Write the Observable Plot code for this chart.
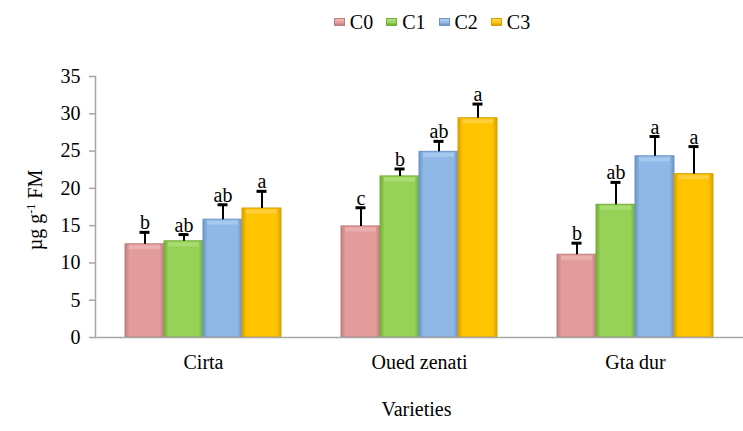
<!DOCTYPE html>
<html>
<head>
<meta charset="utf-8">
<script src="https://cdn.jsdelivr.net/npm/d3@7"></script>
<script src="https://cdn.jsdelivr.net/npm/@observablehq/plot@0.6"></script>
<style>
  body { margin: 0; background: #fff; }
  #wrap { position: relative; width: 743px; height: 431px; font-family: "Liberation Serif", "Times New Roman", serif; color: #000; overflow: hidden; }
  #legend { position: absolute; left: 0; top: 10px; width: 743px; height: 24px; display: flex; justify-content: center; align-items: center; font-size: 20px; padding-left: 120px; box-sizing: border-box; }
  #legend .item { display: flex; align-items: center; margin: 0 6px 0 7px; }
  #legend .sw { width: 11px; height: 8px; margin-right: 5px; }
  #chart { position: absolute; left: 0; top: 40px; }
  #ylabel { position: absolute; left: 35px; top: 210px; transform: translate(-50%, -50%) rotate(-90deg); white-space: nowrap; font-size: 20px; }
  #ylabel sup { font-size: 12px; vertical-align: 7px; line-height: 0; }
  #xlabel { position: absolute; left: 0; width: 743px; text-align: center; top: 398px; font-size: 20px; padding-left: 90px; box-sizing: border-box; }
</style>
</head>
<body>
<svg width="0" height="0" style="position:absolute">
  <defs id="grads"></defs>
</svg>
<div id="wrap">
  <div id="legend"></div>
  <div id="chart"></div>
  <div id="ylabel">µg g<sup>-1</sup> FM</div>
  <div id="xlabel">Varieties</div>
</div>
<script>
const varieties = ["Cirta", "Oued zenati", "Gta dur"];
const series = ["C0", "C1", "C2", "C3"];
const meanC0 = [12.5, 14.9, 11.1];
const meanC1 = [12.9, 21.6, 17.8];
const meanC2 = [15.8, 24.9, 24.3];
const meanC3 = [17.3, 29.4, 21.9];
const errC0 = [1.6, 2.5, 1.55];
const errC1 = [0.9, 1.0, 3.0];
const errC2 = [2.0, 1.4, 2.65];
const errC3 = [2.3, 1.9, 3.7];
const letC0 = ["b", "c", "b"];
const letC1 = ["ab", "b", "ab"];
const letC2 = ["ab", "ab", "a"];
const letC3 = ["a", "a", "a"];
const yTicks = [0, 5, 10, 15, 20, 25, 30, 35];

const base = {C0: "#e39c9c", C1: "#96d257", C2: "#8fb8e6", C3: "#ffc400"};
const edge = {C0: "#c07f7f", C1: "#74ad3a", C2: "#6b95c6", C3: "#d9a000"};
const light = {C0: "#f0bcbc", C1: "#b6e486", C2: "#b4d2f2", C3: "#ffd862"};

// gradients
const defs = document.getElementById("grads");
const NS = "http://www.w3.org/2000/svg";
series.forEach(s => {
  const g = document.createElementNS(NS, "linearGradient");
  g.setAttribute("id", "g" + s);
  g.setAttribute("x1", "0"); g.setAttribute("x2", "1"); g.setAttribute("y1", "0"); g.setAttribute("y2", "0");
  [[0, edge[s]], [0.12, base[s]], [0.88, base[s]], [1, edge[s]]].forEach(([o, c]) => {
    const st = document.createElementNS(NS, "stop");
    st.setAttribute("offset", o); st.setAttribute("stop-color", c);
    g.appendChild(st);
  });
  defs.appendChild(g);
});

// legend
const leg = document.getElementById("legend");
series.forEach(s => {
  const it = document.createElement("div");
  it.className = "item";
  it.innerHTML = `<div class="sw" style="background:linear-gradient(to bottom, ${light[s]}, ${base[s]} 60%, ${edge[s]}); border:1px solid ${edge[s]}; box-sizing:border-box"></div><span>${s}</span>`;
  leg.appendChild(it);
});

const means = {C0: meanC0, C1: meanC1, C2: meanC2, C3: meanC3};
const errs = {C0: errC0, C1: errC1, C2: errC2, C3: errC3};
const lets = {C0: letC0, C1: letC1, C2: letC2, C3: letC3};
const data = [];
varieties.forEach((v, i) => series.forEach(s => {
  data.push({variety: v, series: s, value: means[s][i], err: errs[s][i], top: means[s][i] + errs[s][i], letter: lets[s][i]});
}));

const font = "Liberation Serif, Times New Roman, serif";
const marks = [];
series.forEach(s => {
  const d = data.filter(r => r.series === s);
  marks.push(Plot.barY(d, {fx: "variety", x: "series", y: "value", fill: `url(#g${s})`, stroke: edge[s], strokeWidth: 1}));
  marks.push(Plot.tickY(d, {fx: "variety", x: "series", y: "value", stroke: light[s], strokeWidth: 4, dy: 3, insetLeft: 4, insetRight: 4, strokeOpacity: 0.6}));
});
marks.push(
  Plot.ruleY([0], {stroke: "#a6a6a6", strokeWidth: 1.5}),
  Plot.frame({anchor: "left", facetAnchor: "left", stroke: "#a6a6a6", strokeWidth: 1.5}),
  Plot.ruleX(data, {fx: "variety", x: "series", y1: "value", y2: "top", stroke: "#000", strokeWidth: 2}),
  Plot.tickY(data, {fx: "variety", x: "series", y: "top", stroke: "#000", strokeWidth: 3, insetLeft: 14.5, insetRight: 14.5}),
  Plot.text(data, {fx: "variety", x: "series", y: "top", text: "letter", lineAnchor: "bottom", dy: -3, fontSize: 20, fontFamily: font, fill: "#000"}),
  Plot.axisY({ticks: yTicks, tickSize: 6, tickPadding: 9, fontSize: 20, fontFamily: font, stroke: "#a6a6a6", strokeWidth: 1.5, label: null, color: "#000"}),
  Plot.axisFx({anchor: "bottom", tickSize: 0, tickPadding: 17, fontSize: 20, fontFamily: font, label: null})
);

const chart = Plot.plot({
  width: 743,
  height: 350,
  marginLeft: 95,
  marginRight: 0,
  marginTop: 36,
  marginBottom: 53,
  style: {fontFamily: font, color: "#000", background: "transparent"},
  fx: {domain: varieties, padding: 0},
  x: {domain: series, paddingInner: 0, paddingOuter: 0.73, axis: null},
  y: {domain: [0, 35], axis: null},
  marks
});
document.getElementById("chart").appendChild(chart);
</script>
</body>
</html>
